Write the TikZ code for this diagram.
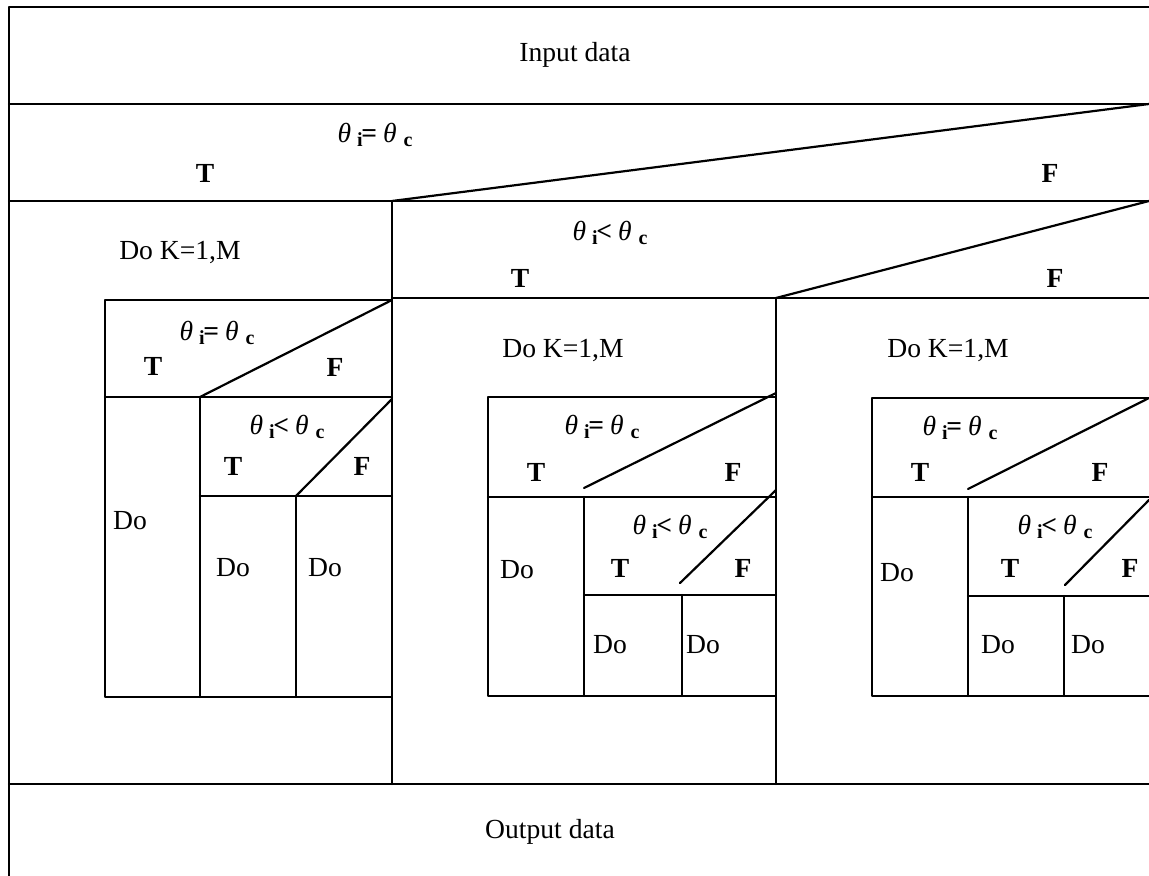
\documentclass[tikz,border=0pt]{standalone}
\usepackage{fontspec}
\setmainfont{Liberation Serif}
\newcommand\condtxt[1]{\textit{θ}\hspace{0.22em}\raisebox{-0.35ex}{\fontsize{10}{12}\selectfont\bfseries i}\hspace{-0.05em}\textbf{#1}\hspace{0.22em}\textit{θ}\hspace{0.25em}\raisebox{-0.35ex}{\fontsize{10}{12}\selectfont\bfseries c}}
\begin{document}
\begin{tikzpicture}[x=0.5pt,y=-0.5pt,
  rule/.style={line width=1.1pt,line cap=round,line join=round},
  lbl/.style={inner sep=0pt,font=\fontsize{13.8}{16}\selectfont},
  tf/.style={lbl,font=\fontsize{13.8}{16}\selectfont\bfseries}]
\useasboundingbox (0,0) rectangle (1149,876);
\clip (0,0) rectangle (1149,876);

% outer frame and main bands
\draw[rule] (1160,7) -- (9,7) -- (9,880);
\draw[rule] (9,104) -- (1160,104);
\draw[rule] (9,201) -- (1160,201);
\draw[rule] (9,784) -- (1160,784);
% first decision
\draw[rule] (392,201) -- (1149,104);
\draw[rule] (392,201) -- (392,784);
% second decision (false branch)
\draw[rule] (392,298) -- (1160,298);
\draw[rule] (776,298) -- (1149,201);
\draw[rule] (776,298) -- (776,784);

% loop body, left branch
\draw[rule] (105,300) rectangle (392,697);
\draw[rule] (105,397) -- (392,397);
\draw[rule] (200,397) -- (200,697);
\draw[rule] (200,397) -- (392,300);
\draw[rule] (200,496) -- (392,496);
\draw[rule] (296,496) -- (296,697);
\draw[rule] (296,496) -- (392,399);

% loop body, middle branch
\draw[rule] (488,397) rectangle (776,696);
\draw[rule] (488,497) -- (776,497);
\draw[rule] (584,497) -- (584,696);
\draw[rule] (584,488) -- (776,393);
\draw[rule] (584,595) -- (776,595);
\draw[rule] (682,595) -- (682,696);
\draw[rule] (680,583) -- (776,490);

% loop body, right branch
\draw[rule] (1160,398) -- (872,398) -- (872,696) -- (1160,696);
\draw[rule] (872,497) -- (1160,497);
\draw[rule] (968,497) -- (968,696);
\draw[rule] (968,489) -- (1149,398);
\draw[rule] (968,596) -- (1160,596);
\draw[rule] (1064,596) -- (1064,696);
\draw[rule] (1065,585) -- (1149,500);

% texts of the main chart
\node[lbl] (in) at (575,55) {Input data};
\node[lbl] (c0) at (375,135) {\condtxt{=}};
\node[tf] (t0) at (205,173) {T};
\node[tf] (f0) at (1050,173) {F};
\node[lbl] (c1) at (610,233) {\condtxt{<}};
\node[tf] (t1) at (520,278) {T};
\node[tf] (f1) at (1055,278) {F};
\node[lbl] (out) at (550,832) {Output data};

% left branch texts
\node[lbl] (k1) at (180,253) {Do K=1,M};
\node[lbl] (a1) at (217,333) {\condtxt{=}};
\node[tf] (a1t) at (153,366) {T};
\node[tf] (a1f) at (335,367) {F};
\node[lbl] (a2) at (287,427) {\condtxt{<}};
\node[tf] (a2t) at (233,466) {T};
\node[tf] (a2f) at (362,466) {F};
\node[lbl] (ad1) at (130,521) {Do};
\node[lbl] (ad2) at (233,568) {Do};
\node[lbl] (ad3) at (325,568) {Do};

% middle branch texts
\node[lbl] (k2) at (563,351) {Do K=1,M};
\node[lbl] (b1) at (602,427) {\condtxt{=}};
\node[tf] (b1t) at (536,472) {T};
\node[tf] (b1f) at (733,472) {F};
\node[lbl] (b2) at (670,527) {\condtxt{<}};
\node[tf] (b2t) at (620,568) {T};
\node[tf] (b2f) at (743,568) {F};
\node[lbl] (bd1) at (517,570) {Do};
\node[lbl] (bd2) at (610,645) {Do};
\node[lbl] (bd3) at (703,645) {Do};

% right branch texts
\node[lbl] (k3) at (948,351) {Do K=1,M};
\node[lbl] (r1) at (960,428) {\condtxt{=}};
\node[tf] (r1t) at (920,472) {T};
\node[tf] (r1f) at (1100,472) {F};
\node[lbl] (r2) at (1055,527) {\condtxt{<}};
\node[tf] (r2t) at (1010,568) {T};
\node[tf] (r2f) at (1130,568) {F};
\node[lbl] (rd1) at (897,573) {Do};
\node[lbl] (rd2) at (998,645) {Do};
\node[lbl] (rd3) at (1088,645) {Do};
\end{tikzpicture}
\end{document}
